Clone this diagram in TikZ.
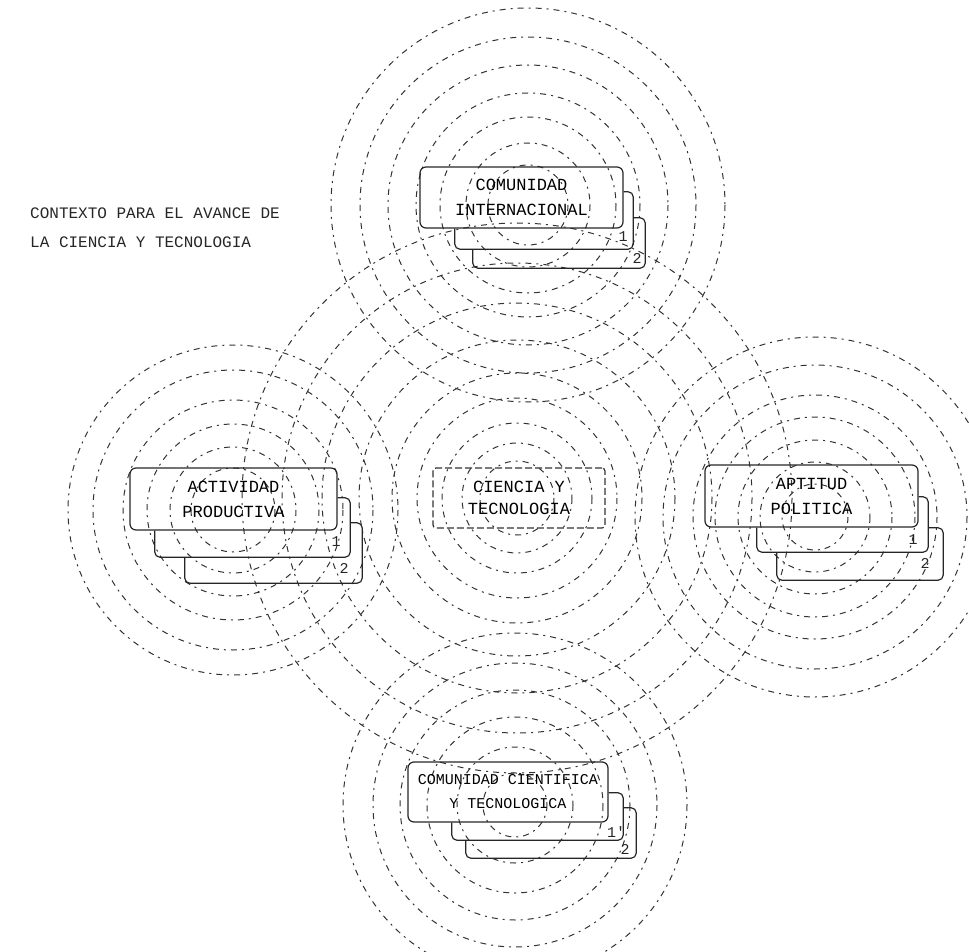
\documentclass[tikz,border=0pt]{standalone}
\usepackage{fontspec}
\newfontfamily\tw{Liberation Mono}
\begin{document}
\begin{tikzpicture}[x=1pt,y=-1pt,
  ring/.style={draw=black!80, line width=1pt, dash pattern=on 6pt off 5pt on 2pt off 5pt},
  frontbox/.style={draw=black!85, line width=1.2pt, rounded corners=6pt, align=center,
    font=\tw\fontsize{17}{25}\selectfont, inner sep=0pt},
  centerbox/.style={draw=black!80, line width=1.2pt, rounded corners=3pt, dash pattern=on 7pt off 3pt,
    align=center, font=\tw\fontsize{17}{22}\selectfont, inner sep=0pt},
  backbox/.style={draw=none, inner sep=0pt},
  backline/.style={draw=black!85, line width=1.2pt, rounded corners=5pt},
  numlabel/.style={font=\tw\fontsize{15}{15}\selectfont, text=black!85, inner sep=0pt},
  titletext/.style={align=left, font=\tw\fontsize{16}{29}\selectfont, text=black!85, inner sep=0pt}]
\useasboundingbox (0,0) rectangle (969,952);
\begin{scope}
\clip (0,0) rectangle (969,952);
% centre cluster
\foreach \r in {37,55,75,100,125,158,195,235,275}
  \draw[ring] (517,498) circle[radius=\r];
% top cluster
\foreach \r in {40,62,88,112,140,168,197}
  \draw[ring] (528,205) circle[radius=\r];
% left cluster
\foreach \r in {42,63,86,110,140,165}
  \draw[ring] (233,510) circle[radius=\r];
% right cluster
\foreach \r in {33,55,77,100,122,152,180}
  \draw[ring] (815,517) circle[radius=\r];
% bottom cluster
\foreach \r in {32,58,88,115,142,172}
  \draw[ring] (515,805) circle[radius=\r];
\end{scope}

% title
\node[titletext, anchor=west] (title) at (30,228) {CONTEXTO PARA EL AVANCE DE\\LA CIENCIA Y TECNOLOGIA};

% centre box
\node[centerbox, minimum width=172, minimum height=60] (cyt) at (519,498) {CIENCIA Y\\TECNOLOGIA};

% top group
\node[frontbox, minimum width=203, minimum height=61] (t1) at (521.5,197.5) {COMUNIDAD\\INTERNACIONAL};
\node[backbox, minimum width=178, minimum height=57] (t2) at (544,220.5) {};
\node[backbox, minimum width=172, minimum height=50] (t3) at (559,243) {};
\draw[backline] (t1.east |- t2.north) -- (t2.north east) -- (t2.south east) -- (t2.south west) -- (t2.west |- t1.south);
\draw[backline] (t2.east |- t3.north) -- (t3.north east) -- (t3.south east) -- (t3.south west) -- (t3.west |- t2.south);
\node[numlabel] (t2n) at (623,237) {1};
\node[numlabel] (t3n) at (637,258) {2};

% left group
\node[frontbox, minimum width=207, minimum height=62] (l1) at (233.5,499) {ACTIVIDAD\\PRODUCTIVA};
\node[backbox, minimum width=195, minimum height=59] (l2) at (252.5,527.5) {};
\node[backbox, minimum width=177, minimum height=60] (l3) at (273.5,553) {};
\draw[backline] (l1.east |- l2.north) -- (l2.north east) -- (l2.south east) -- (l2.south west) -- (l2.west |- l1.south);
\draw[backline] (l2.east |- l3.north) -- (l3.north east) -- (l3.south east) -- (l3.south west) -- (l3.west |- l2.south);
\node[numlabel] (l2n) at (336,542) {1};
\node[numlabel] (l3n) at (344,568) {2};

% right group
\node[frontbox, minimum width=213, minimum height=62] (r1) at (811.5,496) {APTITUD\\POLITICA};
\node[backbox, minimum width=171, minimum height=55] (r2) at (842.5,524.5) {};
\node[backbox, minimum width=166, minimum height=52] (r3) at (860,554) {};
\draw[backline] (r1.east |- r2.north) -- (r2.north east) -- (r2.south east) -- (r2.south west) -- (r2.west |- r1.south);
\draw[backline] (r2.east |- r3.north) -- (r3.north east) -- (r3.south east) -- (r3.south west) -- (r3.west |- r2.south);
\node[numlabel] (r2n) at (913,540) {1};
\node[numlabel] (r3n) at (925,563) {2};

% bottom group
\node[frontbox, minimum width=200, minimum height=60, font=\tw\fontsize{15}{24}\selectfont] (b1) at (508,792) {COMUNIDAD CIENTIFICA\\Y TECNOLOGICA};
\node[backbox, minimum width=171, minimum height=47] (b2) at (537.5,816.5) {};
\node[backbox, minimum width=170, minimum height=50] (b3) at (551,833) {};
\draw[backline] (b1.east |- b2.north) -- (b2.north east) -- (b2.south east) -- (b2.south west) -- (b2.west |- b1.south);
\draw[backline] (b2.east |- b3.north) -- (b3.north east) -- (b3.south east) -- (b3.south west) -- (b3.west |- b2.south);
\node[numlabel] (b2n) at (616,832) {1'};
\node[numlabel] (b3n) at (625,849) {2};
\end{tikzpicture}
\end{document}
